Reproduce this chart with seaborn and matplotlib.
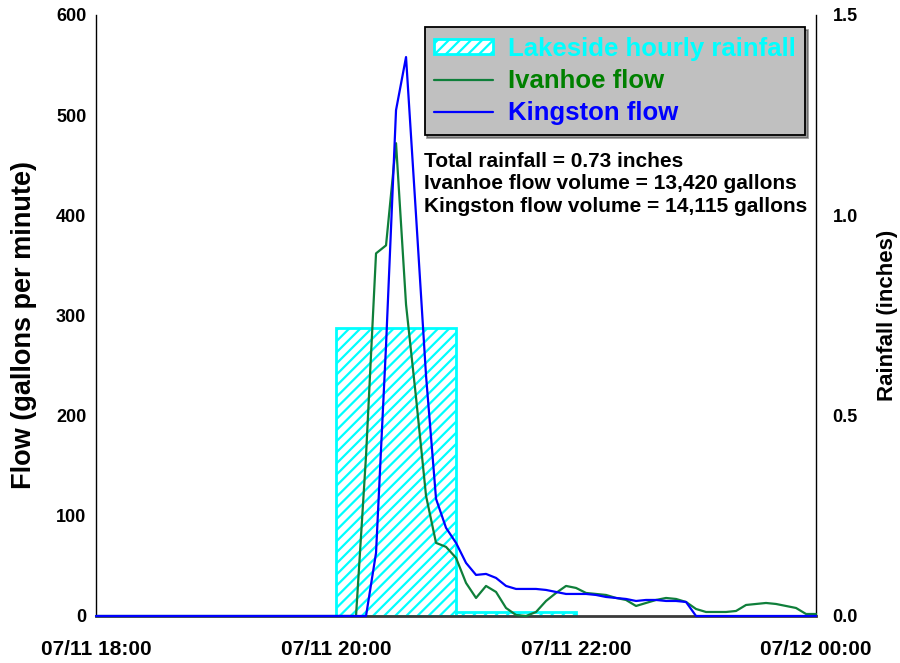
import numpy as np
import pandas as pd
import seaborn as sns
import matplotlib
matplotlib.use("Agg")
import matplotlib.pyplot as plt
import matplotlib.dates as mdates

# 5-minute flow readings, 07/11 18:00 -> 07/12 00:00
times = pd.date_range("2008-07-11 18:00", "2008-07-12 00:00", freq="5min")

ivanhoe = [0, 0, 0, 0, 0, 0, 0, 0, 0, 0, 0, 0,      # 18:00-18:55
           0, 0, 0, 0, 0, 0, 0, 0, 0, 0, 0, 0,      # 19:00-19:55
           0, 0, 0, 160, 362, 370, 472, 311, 218, 120, 73, 69,   # 20:00-20:55
           58, 33, 18, 30, 24, 8, 1, 0, 4, 15, 23, 30,           # 21:00-21:55
           28, 23, 22, 21, 18, 16, 10, 13, 16, 18, 17, 14,       # 22:00-22:55
           7, 4, 4, 4, 5, 11, 12, 13, 12, 10, 8, 2,              # 23:00-23:55
           2]                                                   # 00:00
kingston = [0, 0, 0, 0, 0, 0, 0, 0, 0, 0, 0, 0,
            0, 0, 0, 0, 0, 0, 0, 0, 0, 0, 0, 0,
            0, 0, 0, 0, 63, 270, 505, 558, 400, 240, 117, 88,
            73, 53, 41, 42, 38, 30, 27, 27, 27, 26, 24, 22,
            22, 22, 21, 19, 18, 17, 15, 16, 16, 15, 15, 14,
            0, 0, 0, 0, 0, 0, 0, 0, 0, 0, 0, 0,
            0]

# hourly rainfall at Lakeside
rain_start = pd.to_datetime(["2008-07-11 20:00", "2008-07-11 21:00"])
rain_in = [0.72, 0.01]

summary = ["Total rainfall = 0.73 inches",
           "Ivanhoe flow volume = 13,420 gallons",
           "Kingston flow volume = 14,115 gallons"]

df = pd.DataFrame({"time": times, "Ivanhoe": ivanhoe, "Kingston": kingston})

sns.set_style("white")
plt.rcParams["font.family"] = ["Liberation Sans", "DejaVu Sans"]
plt.rcParams["font.weight"] = "bold"
for k in ["text.color", "axes.labelcolor", "xtick.color", "ytick.color"]:
    plt.rcParams[k] = "black"
plt.rcParams["hatch.color"] = "#00ffff"
plt.rcParams["hatch.linewidth"] = 1.6

fig = plt.figure(figsize=(9, 6.63), dpi=100)
ax = fig.add_axes([0.1067, 0.0709, 0.8, 0.9065])
ax2 = ax.twinx()

# rainfall bars on the right axis
bars = ax2.bar(mdates.date2num(rain_start), rain_in, width=1 / 24, align="edge",
               facecolor="white", edgecolor="#00ffff", hatch="///", linewidth=2,
               label="Lakeside hourly rainfall")
ax.set_zorder(ax2.get_zorder() + 1)
ax.patch.set_visible(False)

sns.lineplot(data=df, x="time", y="Ivanhoe", ax=ax, color="#0f7f3a", lw=1.6,
             label="Ivanhoe flow", clip_on=False, zorder=3)
sns.lineplot(data=df, x="time", y="Kingston", ax=ax, color="#0000ff", lw=1.6,
             label="Kingston flow", clip_on=False, zorder=4)

ax.set_xlim(times[0], times[-1])
ax.set_ylim(0, 600)
ax2.set_ylim(0, 1.5)
ax.set_yticks(range(0, 601, 100))
ax2.set_yticks([0, 0.5, 1.0, 1.5])
ax2.set_yticklabels(["0.0", "0.5", "1.0", "1.5"])

ax.xaxis.set_major_locator(mdates.HourLocator(byhour=[0, 18, 20, 22]))
ax.xaxis.set_minor_locator(mdates.HourLocator(byhour=[19, 21, 23]))
ax.xaxis.set_major_formatter(mdates.DateFormatter("%m/%d %H:%M"))
ax.tick_params(axis="x", which="major", direction="out", length=11, width=5,
               color="black", labelsize=15, pad=6)
ax.tick_params(axis="x", which="minor", direction="out", length=4, width=1.5,
               color="black")
ax.tick_params(axis="y", length=0, labelsize=13, pad=7)
ax2.tick_params(axis="y", length=0, labelsize=13, pad=12)

for s in ["top", "right"]:
    ax.spines[s].set_visible(False)
for s in ["top", "left", "bottom"]:
    ax2.spines[s].set_visible(False)
ax.spines["left"].set_color("black")
ax.spines["left"].set_linewidth(1)
ax.spines["bottom"].set_color("#3a3a3a")
ax.spines["bottom"].set_linewidth(2)
ax2.spines["right"].set_color("black")
ax2.spines["right"].set_linewidth(1)

ax.set_xlabel("")
ax.set_ylabel("Flow (gallons per minute)", fontsize=19.5, fontweight="bold")
ax2.set_ylabel("Rainfall (inches)", fontsize=16, fontweight="bold")
ax.yaxis.set_label_coords(-0.082, 0.484)
ax2.yaxis.set_label_coords(1.085, 0.5)

handles = [bars] + ax.get_lines()[:2]
labels = ["Lakeside hourly rainfall", "Ivanhoe flow", "Kingston flow"]
leg = ax.legend(handles, labels, loc="upper right", bbox_to_anchor=(0.985, 0.98),
                fontsize=18.5, facecolor="#c0c0c0", edgecolor="black", framealpha=1,
                shadow=True, fancybox=False, handlelength=2.3, handleheight=0.5,
                handletextpad=0.55, labelspacing=0.32, borderpad=0.38,
                borderaxespad=0)
leg.get_frame().set_linewidth(1.3)
for txt, c in zip(leg.get_texts(), ["#00ffff", "#008000", "#0000ff"]):
    txt.set_color(c)

ax.text(0.4556, 0.772, "\n".join(summary), transform=ax.transAxes, fontsize=15,
        fontweight="bold", va="top", linespacing=1.22)

fig.savefig("out.png", dpi=100)
